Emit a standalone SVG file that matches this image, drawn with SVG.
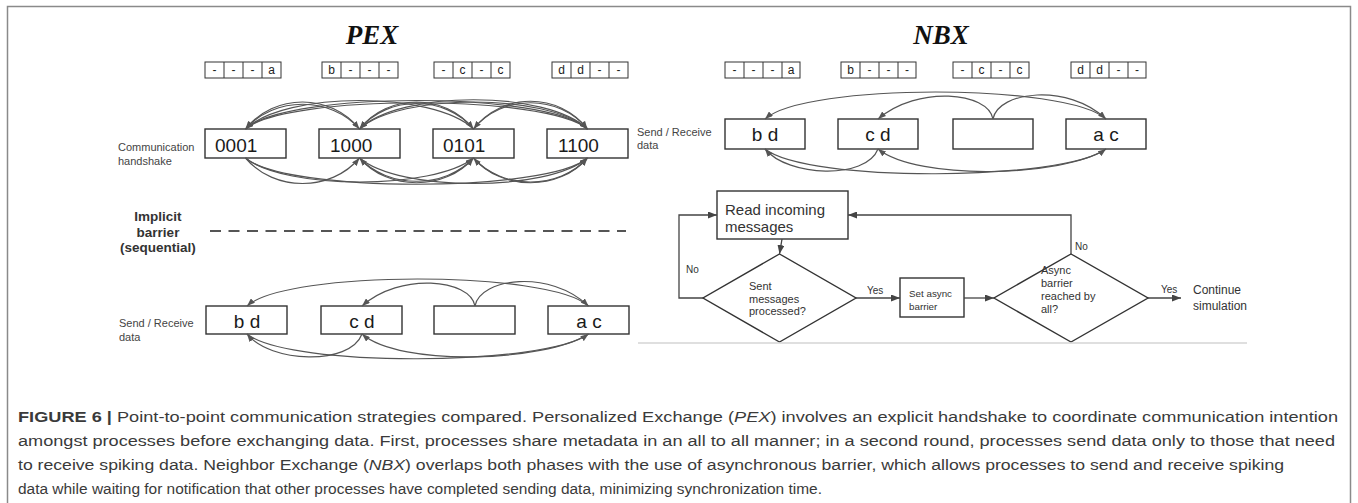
<svg xmlns="http://www.w3.org/2000/svg" width="1358" height="503" viewBox="0 0 1358 503">
<style>
.frame{fill:none;stroke:#8a8a8a;stroke-width:1.5}
.box{fill:#fff;stroke:#333;stroke-width:1.4}
.cell{fill:#fff;stroke:#333;stroke-width:1}
.div{stroke:#333;stroke-width:1}
.arc{fill:none;stroke:#555;stroke-width:1.2;marker-end:url(#ah)}
.flow{fill:none;stroke:#444;stroke-width:1.3;marker-end:url(#fa)}
.title{font-family:"Liberation Serif",serif;font-weight:bold;font-style:italic;font-size:27px;fill:#111;text-anchor:middle}
.ct{font-family:"Liberation Sans",Arial,sans-serif;font-size:12px;fill:#222;text-anchor:middle}
.bt{font-family:"Liberation Sans",Arial,sans-serif;font-size:19px;fill:#1a1a1a}
.btc{font-family:"Liberation Sans",Arial,sans-serif;font-size:19px;fill:#1a1a1a;text-anchor:middle}
.lab{font-family:"Liberation Sans",Arial,sans-serif;font-size:11px;fill:#444}
.bar{font-family:"Liberation Sans",Arial,sans-serif;font-size:13.5px;font-weight:bold;fill:#333;text-anchor:middle}
.ft{font-family:"Liberation Sans",Arial,sans-serif;fill:#333}
.cap{font-family:"Liberation Sans",Arial,sans-serif;font-size:15.5px;fill:#3a3a3a}
</style>
<defs>
<marker id="ah" markerUnits="userSpaceOnUse" markerWidth="8" markerHeight="6" refX="8" refY="3" orient="auto"><path d="M0,0 L8,3 L0,6 z" fill="#555"/></marker>
<marker id="fa" markerUnits="userSpaceOnUse" markerWidth="9" markerHeight="7" refX="9" refY="3.5" orient="auto"><path d="M0,0 L9,3.5 L0,7 z" fill="#444"/></marker>
</defs>
<rect class="frame" x="7.5" y="6.5" width="1343" height="510"/>

<!-- Titles -->
<text id="title-pex" class="title" x="372" y="44">PEX</text>
<text id="title-nbx" class="title" x="941" y="44">NBX</text>

<!-- PEX arrays -->
<g id="pex-array-1"><rect class="cell" x="205" y="62" width="76" height="16"/><path class="div" d="M224,62V78M243,62V78M262,62V78"/><text class="ct" y="74"><tspan x="214.5">-</tspan><tspan x="233.5">-</tspan><tspan x="252.5">-</tspan><tspan x="271.5">a</tspan></text></g>
<g id="pex-array-2"><rect class="cell" x="322" y="62" width="76" height="16"/><path class="div" d="M341,62V78M360,62V78M379,62V78"/><text class="ct" y="74"><tspan x="331.5">b</tspan><tspan x="350.5">-</tspan><tspan x="369.5">-</tspan><tspan x="388.5">-</tspan></text></g>
<g id="pex-array-3"><rect class="cell" x="434" y="62" width="76" height="16"/><path class="div" d="M453,62V78M472,62V78M491,62V78"/><text class="ct" y="74"><tspan x="443.5">-</tspan><tspan x="462.5">c</tspan><tspan x="481.5">-</tspan><tspan x="500.5">c</tspan></text></g>
<g id="pex-array-4"><rect class="cell" x="552" y="62" width="76" height="16"/><path class="div" d="M571,62V78M590,62V78M609,62V78"/><text class="ct" y="74"><tspan x="561.5">d</tspan><tspan x="580.5">d</tspan><tspan x="599.5">-</tspan><tspan x="618.5">-</tspan></text></g>

<!-- NBX arrays -->
<g id="nbx-array-1"><rect class="cell" x="725" y="62" width="75" height="16"/><path class="div" d="M744,62V78M763,62V78M782,62V78"/><text class="ct" y="74"><tspan x="734.5">-</tspan><tspan x="753.5">-</tspan><tspan x="772.5">-</tspan><tspan x="791">a</tspan></text></g>
<g id="nbx-array-2"><rect class="cell" x="841" y="62" width="75" height="16"/><path class="div" d="M860,62V78M879,62V78M898,62V78"/><text class="ct" y="74"><tspan x="850.5">b</tspan><tspan x="869.5">-</tspan><tspan x="888.5">-</tspan><tspan x="907">-</tspan></text></g>
<g id="nbx-array-3"><rect class="cell" x="953" y="62" width="76" height="16"/><path class="div" d="M972,62V78M991,62V78M1010,62V78"/><text class="ct" y="74"><tspan x="962.5">-</tspan><tspan x="981.5">c</tspan><tspan x="1000.5">-</tspan><tspan x="1019.5">c</tspan></text></g>
<g id="nbx-array-4"><rect class="cell" x="1071" y="62" width="75" height="16"/><path class="div" d="M1090,62V78M1109,62V78M1128,62V78"/><text class="ct" y="74"><tspan x="1080.5">d</tspan><tspan x="1099.5">d</tspan><tspan x="1118.5">-</tspan><tspan x="1137">-</tspan></text></g>

<!-- PEX handshake row -->
<text id="lab-handshake" class="lab"><tspan x="118" y="151">Communication</tspan><tspan x="118" y="165">handshake</tspan></text>
<g id="pex-h1"><rect class="box" x="205" y="129" width="81" height="29"/><text class="bt" x="215" y="152">0001</text></g>
<g id="pex-h2"><rect class="box" x="319" y="129" width="81" height="29"/><text class="bt" x="330" y="152">1000</text></g>
<g id="pex-h3"><rect class="box" x="433" y="129" width="81" height="29"/><text class="bt" x="443" y="152">0101</text></g>
<g id="pex-h4"><rect class="box" x="547" y="129" width="81" height="29"/><text class="bt" x="558" y="152">1100</text></g>

<!-- Barrier -->
<text id="lab-barrier" class="bar"><tspan x="158" y="221">Implicit</tspan><tspan x="158" y="237">barrier</tspan><tspan x="158" y="252">(sequential)</tspan></text>
<line id="barrier-line" x1="210" y1="231" x2="626" y2="231" stroke="#555" stroke-width="2" stroke-dasharray="11,7.5"/>

<!-- PEX data row -->
<text id="lab-pex-data" class="lab"><tspan x="119" y="327">Send / Receive</tspan><tspan x="119" y="341">data</tspan></text>
<g id="pex-d1"><rect class="box" x="206" y="306" width="81" height="28"/><text class="btc" x="247" y="328">b d</text></g>
<g id="pex-d2"><rect class="box" x="321" y="306" width="81" height="28"/><text class="btc" x="362" y="328">c d</text></g>
<g id="pex-d3"><rect class="box" x="434" y="306" width="81" height="28"/></g>
<g id="pex-d4"><rect class="box" x="548" y="306" width="81" height="28"/><text class="btc" x="589" y="328">a c</text></g>

<!-- NBX data row -->
<text id="lab-nbx-data" class="lab" font-size="10.5"><tspan x="637" y="136">Send / Receive</tspan><tspan x="637" y="149">data</tspan></text>
<g id="nbx-d1"><rect class="box" x="725" y="119" width="80" height="30"/><text class="btc" x="765" y="141">b d</text></g>
<g id="nbx-d2"><rect class="box" x="838" y="119" width="80" height="30"/><text class="btc" x="878" y="141">c d</text></g>
<g id="nbx-d3"><rect class="box" x="953" y="119" width="80" height="30"/></g>
<g id="nbx-d4"><rect class="box" x="1066" y="119" width="80" height="30"/><text class="btc" x="1106" y="141">a c</text></g>

<!-- Flowchart nodes -->
<g id="fc-read"><rect class="box" x="717" y="191" width="131" height="48"/><text class="ft" font-size="15"><tspan x="725" y="215">Read incoming</tspan><tspan x="725" y="232">messages</tspan></text></g>
<g id="fc-sent"><path class="box" d="M779.5,254 L856,298 L779.5,342 L703,298 Z"/><text class="ft" font-size="11"><tspan x="749" y="290">Sent</tspan><tspan x="749" y="302.5">messages</tspan><tspan x="749" y="315">processed?</tspan></text></g>
<g id="fc-set"><rect class="box" x="900" y="278" width="64" height="39"/><text class="ft" font-size="9.8"><tspan x="909" y="297">Set async</tspan><tspan x="909" y="310">barrier</tspan></text></g>
<g id="fc-async"><path class="box" d="M1071,254 L1148,298 L1071,342 L994,298 Z"/><text class="ft" font-size="11"><tspan x="1041" y="274">Async</tspan><tspan x="1041" y="287">barrier</tspan><tspan x="1041" y="300">reached by</tspan><tspan x="1041" y="313">all?</tspan></text></g>
<g id="fc-continue"><text class="ft" font-size="12"><tspan x="1193" y="294">Continue</tspan><tspan x="1193" y="310">simulation</tspan></text></g>
<line id="fc-base" x1="638" y1="343" x2="1247" y2="343" stroke="#d4d4d4" stroke-width="1.5"/>

<!-- Connectors -->
<g id="connectors">
  <!-- PEX handshake top -->
  <path class="arc" d="M359.5,129 C331,93 274,93 245.5,129"/>
  <path class="arc" d="M473.5,129 C433.5,91 285.5,91 245.5,129"/>
  <path class="arc" d="M587.5,129 C547.5,94 285.5,94 245.5,129"/>
  <path class="arc" d="M245.5,129 C274,96 331,96 359.5,129"/>
  <path class="arc" d="M473.5,129 C445,95 388,95 359.5,129"/>
  <path class="arc" d="M587.5,129 C547.5,90 399.5,90 359.5,129"/>
  <path class="arc" d="M359.5,129 C388,93 445,93 473.5,129"/>
  <path class="arc" d="M587.5,129 C559,94 502,94 473.5,129"/>
  <path class="arc" d="M245.5,129 C285.5,91 547.5,91 587.5,129"/>
  <path class="arc" d="M359.5,129 C399.5,93 547.5,93 587.5,129"/>
  <path class="arc" d="M473.5,129 C502,92 559,92 587.5,129"/>
  <!-- PEX handshake bottom -->
  <path class="arc" d="M245.5,158 C274,192 331,192 359.5,158"/>
  <path class="arc" d="M245.5,158 C285.5,190 433.5,190 473.5,158"/>
  <path class="arc" d="M245.5,158 C285.5,193 547.5,193 587.5,158"/>
  <path class="arc" d="M473.5,158 C445,189 388,189 359.5,158"/>
  <path class="arc" d="M359.5,158 C388,191 445,191 473.5,158"/>
  <path class="arc" d="M587.5,158 C559,190 502,190 473.5,158"/>
  <path class="arc" d="M359.5,158 C399.5,192 547.5,192 587.5,158"/>
  <path class="arc" d="M473.5,158 C502,191 559,191 587.5,158"/>
  <!-- PEX data top -->
  <path class="arc" d="M588.5,306 C548.5,270 286.5,270 247,306"/>
  <path class="arc" d="M475,306 C470,279 400,272 362,306"/>
  <path class="arc" d="M475,306 C480,278 550,269 588.5,306"/>
  <!-- PEX data bottom -->
  <path class="arc" d="M362,334 C350,366 270,363 247,334"/>
  <path class="arc" d="M247,334 C290,368 545,366 588.5,334"/>
  <path class="arc" d="M588.5,334 C545,362 400,367 362,334"/>
  <!-- NBX data top -->
  <path class="arc" d="M1106,119 C1066,83 805,83 765,119"/>
  <path class="arc" d="M993,119 C988,92 918,85 878,119"/>
  <path class="arc" d="M993,119 C998,91 1068,83 1106,119"/>
  <!-- NBX data bottom -->
  <path class="arc" d="M878,149 C866,180 788,177 765,149"/>
  <path class="arc" d="M765,149 C808,183 1063,181 1106,149"/>
  <path class="arc" d="M1106,149 C1063,177 918,181 878,149"/>
  <!-- Flowchart -->
  <path class="flow" d="M782,239 L779.5,254"/>
  <path class="flow" d="M703,298 H679 V215 H717"/>
  <path class="flow" d="M856,298 H900"/>
  <path class="flow" d="M964,298 H994"/>
  <path class="flow" d="M1071,254 V215 H848"/>
  <path class="flow" d="M1148,298 H1181"/>
</g>
<g id="connector-labels">
  <text class="ft" font-size="10" x="686" y="273">No</text>
  <text class="ft" font-size="10" x="867" y="294">Yes</text>
  <text class="ft" font-size="10" x="1075" y="250">No</text>
  <text class="ft" font-size="10" x="1161" y="293">Yes</text>
</g>

<!-- Caption -->
<g id="caption">
<text class="cap" x="18" y="422" textLength="1320" lengthAdjust="spacingAndGlyphs"><tspan font-weight="bold">FIGURE 6 |</tspan> Point-to-point communication strategies compared. Personalized Exchange (<tspan font-style="italic">PEX</tspan>) involves an explicit handshake to coordinate communication intention</text>
<text class="cap" x="18" y="446" textLength="1317" lengthAdjust="spacingAndGlyphs">amongst processes before exchanging data. First, processes share metadata in an all to all manner; in a second round, processes send data only to those that need</text>
<text class="cap" x="18" y="470" textLength="1266" lengthAdjust="spacingAndGlyphs">to receive spiking data. Neighbor Exchange (<tspan font-style="italic">NBX</tspan>) overlaps both phases with the use of asynchronous barrier, which allows processes to send and receive spiking</text>
<text class="cap" x="18" y="494" textLength="804" lengthAdjust="spacingAndGlyphs">data while waiting for notification that other processes have completed sending data, minimizing synchronization time.</text>
</g>
</svg>
